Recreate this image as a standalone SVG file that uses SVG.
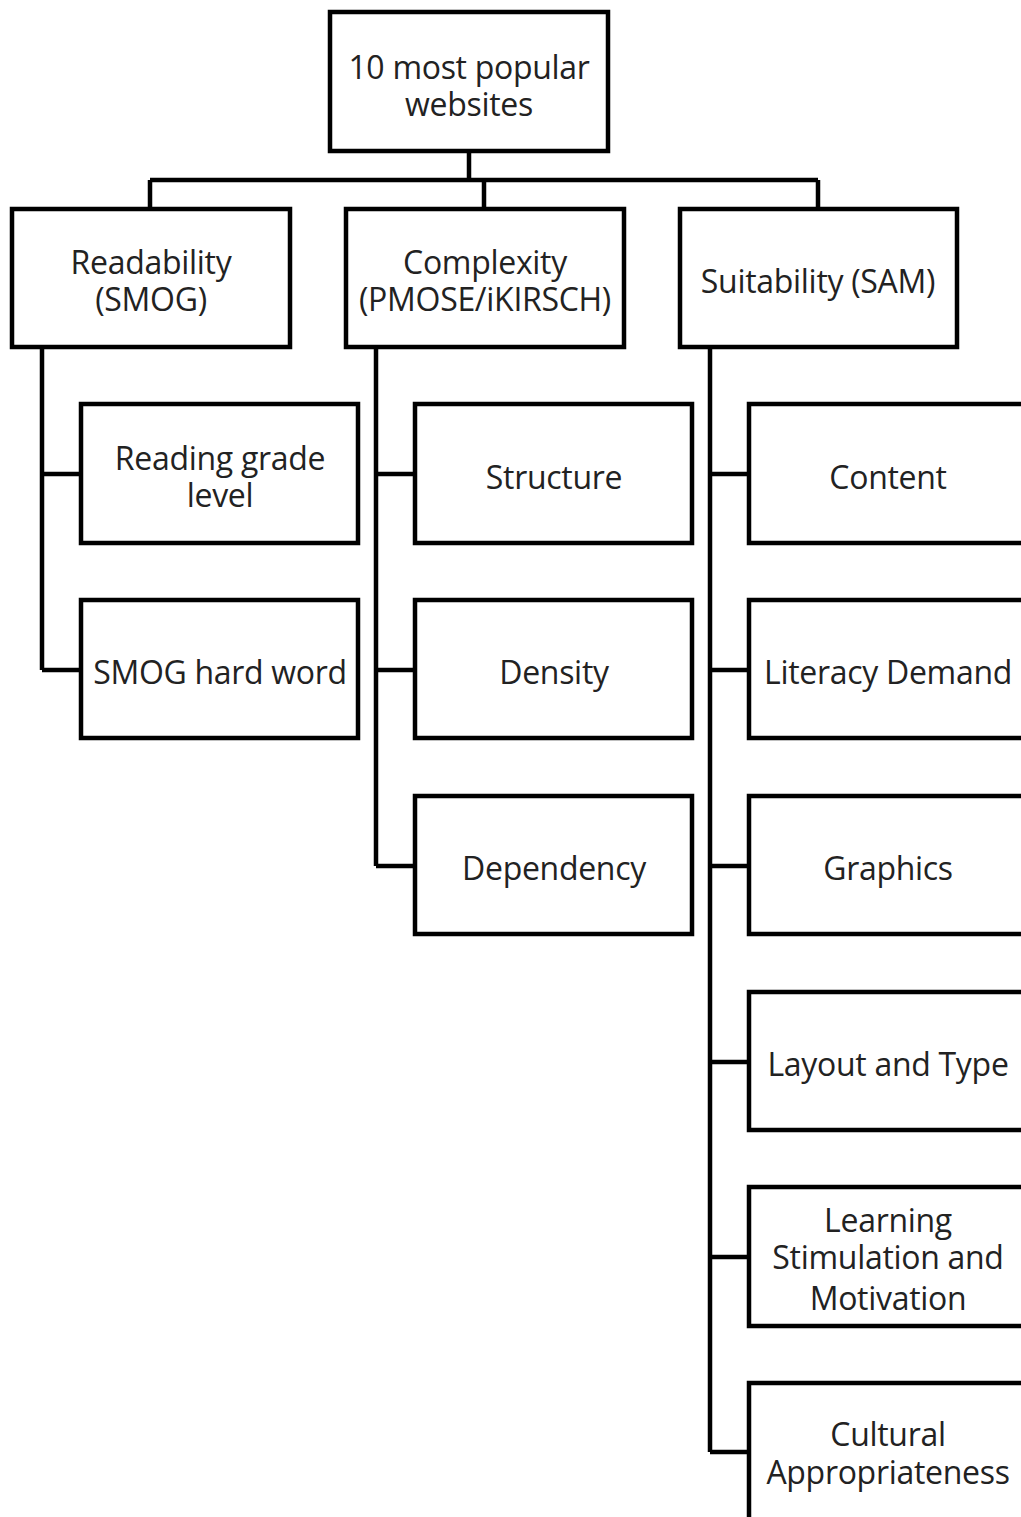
<svg xmlns="http://www.w3.org/2000/svg" width="1021" height="1517" viewBox="0 0 1021 1517">
<style>
.box{fill:#fff;stroke:#000;stroke-width:4.5}
.ln{fill:none;stroke:#000;stroke-width:4.5}
text{font-family:"Open Sans","Liberation Sans",sans-serif;font-size:32px;fill:#222;text-anchor:middle;dominant-baseline:central;letter-spacing:-0.3px}
</style>
<rect width="1021" height="1517" fill="#fff"/>
<g id="connectors">
<path class="ln" d="M469 151V180M150 180H818M150 180V209M484 180V209M818 180V209"/>
<path class="ln" d="M42 347V670M42 474H81M42 670H81"/>
<path class="ln" d="M376 347V866M376 474H415M376 670H415M376 866H415"/>
<path class="ln" d="M710 347V1452M710 474H749M710 670H749M710 866H749M710 1062H749M710 1257H749M710 1452H749"/>
</g>
<g id="root"><rect class="box" x="330" y="12" width="278" height="139"/><text x="469" y="66">10 most popular</text><text x="469" y="103">websites</text></g>
<g id="readability"><rect class="box" x="12" y="209" width="278" height="138"/><text x="151" y="261">Readability</text><text x="151" y="298">(SMOG)</text></g>
<g id="complexity"><rect class="box" x="346" y="209" width="278" height="138"/><text x="485" y="261">Complexity</text><text x="485" y="298">(PMOSE/iKIRSCH)</text></g>
<g id="suitability"><rect class="box" x="680" y="209" width="277" height="138"/><text x="818" y="280">Suitability (SAM)</text></g>
<g id="reading-grade"><rect class="box" x="81" y="404" width="277" height="139"/><text x="220" y="457">Reading grade</text><text x="220" y="494">level</text></g>
<g id="smog-hard"><rect class="box" x="81" y="600" width="277" height="138"/><text x="220" y="671">SMOG hard word</text></g>
<g id="structure"><rect class="box" x="415" y="404" width="277" height="139"/><text x="554" y="476">Structure</text></g>
<g id="density"><rect class="box" x="415" y="600" width="277" height="138"/><text x="554" y="671">Density</text></g>
<g id="dependency"><rect class="box" x="415" y="796" width="277" height="138"/><text x="554" y="867">Dependency</text></g>
<g id="content"><rect class="box" x="749" y="404" width="280" height="139"/><text x="888" y="476">Content</text></g>
<g id="literacy"><rect class="box" x="749" y="600" width="280" height="138"/><text x="888" y="671">Literacy Demand</text></g>
<g id="graphics"><rect class="box" x="749" y="796" width="280" height="138"/><text x="888" y="867">Graphics</text></g>
<g id="layout"><rect class="box" x="749" y="992" width="280" height="138"/><text x="888" y="1063">Layout and Type</text></g>
<g id="learning"><rect class="box" x="749" y="1187" width="280" height="139"/><text x="888" y="1219">Learning</text><text x="888" y="1256">Stimulation and</text><text x="888" y="1297">Motivation</text></g>
<g id="cultural"><rect class="box" x="749" y="1383" width="280" height="150"/><text x="888" y="1433">Cultural</text><text x="888" y="1471">Appropriateness</text></g>
</svg>
